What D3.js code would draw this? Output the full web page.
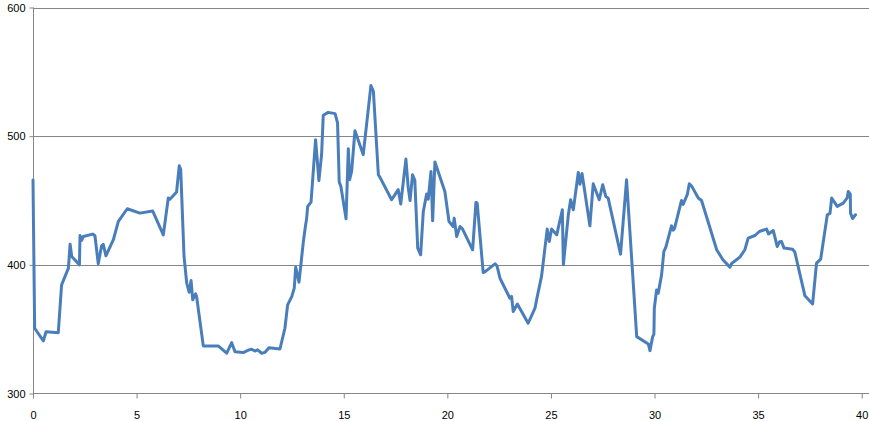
<!DOCTYPE html>
<html>
<head>
<meta charset="utf-8">
<script src="https://cdn.jsdelivr.net/npm/d3@7"></script>
<style>
  body { margin: 0; background: #fff; }
  svg { display: block; }
  .tick text { font-family: "Liberation Sans", Arial, sans-serif; font-size: 11px; fill: #000; }
</style>
</head>
<body>
<svg id="chart" width="869" height="421"></svg>
<script>
const xTicks = [0, 5, 10, 15, 20, 25, 30, 35, 40];
const yTicks = [300, 400, 500, 600];

const xs = [0, 0.08, 0.5, 0.63, 1.22, 1.38, 1.71, 1.79, 1.87, 2.24, 2.27, 2.35, 2.43, 2.88, 2.99, 3.15, 3.31, 3.39, 3.52, 3.88, 4.12, 4.55, 5.16, 5.78, 6.29, 6.53, 6.61, 6.93, 7.06, 7.13, 7.29, 7.42, 7.54, 7.63, 7.71, 7.85, 7.9, 8.22, 8.94, 9.35, 9.59, 9.75, 10.15, 10.42, 10.55, 10.71, 10.84, 11.04, 11.2, 11.39, 11.92, 12.16, 12.29, 12.49, 12.61, 12.68, 12.84, 13.05, 13.16, 13.2, 13.26, 13.42, 13.64, 13.8, 13.93, 14.01, 14.25, 14.58, 14.7, 14.78, 14.86, 15.11, 15.22, 15.28, 15.38, 15.54, 15.94, 16.31, 16.43, 16.67, 16.75, 17.31, 17.63, 17.75, 18.0, 18.11, 18.2, 18.32, 18.43, 18.57, 18.71, 18.84, 19.0, 19.08, 19.21, 19.29, 19.4, 19.88, 20.08, 20.28, 20.33, 20.45, 20.61, 20.73, 21.22, 21.38, 21.44, 21.73, 21.81, 22.3, 22.4, 22.54, 23.02, 23.1, 23.18, 23.38, 23.9, 24.23, 24.34, 24.55, 24.82, 24.92, 25.03, 25.28, 25.55, 25.6, 25.84, 25.95, 26.08, 26.32, 26.4, 26.5, 26.56, 26.88, 27.04, 27.33, 27.5, 27.65, 27.76, 28.36, 28.65, 29.14, 29.7, 29.78, 29.91, 29.97, 29.99, 30.1, 30.18, 30.34, 30.45, 30.55, 30.82, 30.9, 30.96, 31.23, 31.3, 31.38, 31.58, 31.68, 31.8, 32.11, 32.27, 33.0, 33.3, 33.64, 33.72, 34.12, 34.36, 34.52, 34.85, 35.06, 35.41, 35.5, 35.73, 35.92, 36.04, 36.13, 36.25, 36.66, 36.77, 37.26, 37.63, 37.82, 38.02, 38.34, 38.47, 38.55, 38.82, 39.11, 39.3, 39.35, 39.45, 39.46, 39.56, 39.7];
const ys = [466, 350.7, 340.9, 348, 347.3, 384.4, 397.4, 416, 406.5, 400, 422.8, 419, 422, 423.9, 422.6, 400.8, 414.8, 416, 407, 419.5, 433.7, 443.6, 440.2, 441.8, 423.3, 451.9, 451, 456.6, 477, 474, 406.5, 385.8, 378.7, 387.8, 372.8, 377.4, 375, 337, 337, 331.3, 339.5, 332.5, 331.8, 333.9, 334.4, 333, 333.9, 331.3, 332, 335.6, 334.6, 350.7, 368.9, 375.3, 381.9, 398.2, 386.5, 418.1, 431.1, 435, 445.4, 448.8, 497.3, 465.4, 485.6, 516.2, 518.5, 517.5, 510.3, 464.4, 461, 435.8, 490.3, 466.1, 472.6, 504.3, 485.6, 539.3, 534.9, 470, 468, 450.6, 458.4, 447.2, 482.2, 460.2, 450, 470, 465.6, 413, 407.8, 441.5, 455, 451, 472.6, 434.2, 479.9, 457, 433.7, 429.8, 436.3, 422, 429.8, 428, 411.7, 448.5, 448, 394, 394.5, 400.8, 399, 389.6, 374, 375.5, 363.7, 369.6, 354.6, 366.3, 375.3, 391.4, 427.8, 418.1, 427.8, 423.3, 442.8, 400, 439, 450.6, 442.8, 471.8, 462.6, 471, 464.8, 430.3, 463, 450.6, 462.3, 453.1, 452, 408.3, 466.1, 344.2, 338.5, 333.3, 344.2, 346, 366.3, 380.5, 378, 392.2, 410.3, 414, 430.3, 427, 428, 445.4, 450, 447, 454.5, 463, 461, 451.9, 450, 411.7, 404, 398.2, 401, 406, 411.7, 420.8, 422.8, 425.9, 427.8, 424, 426.7, 414.3, 418, 418.1, 413, 412.2, 410, 375.9, 369.6, 401.3, 404.4, 438.9, 440, 451.9, 445.4, 448, 452, 457, 455, 440.2, 436, 438.9];

const data = xs.map((x, i) => ({x, y: ys[i]}));

const svg = d3.select("#chart");
const W = 869;
const x = d3.scaleLinear().domain([0, 40]).range([33, 861.7]);
const y = d3.scaleLinear().domain([300, 600]).range([393.5, 7.5]);
const grey = "#868686";

// gridlines
svg.append("g").selectAll("line").data(yTicks.filter(d => d > 300)).join("line")
  .attr("x1", 33).attr("x2", W)
  .attr("y1", d => Math.round(y(d)) + 0.5).attr("y2", d => Math.round(y(d)) + 0.5)
  .attr("stroke", grey).attr("stroke-width", 1);

// y axis
const yAxis = svg.append("g").attr("transform", "translate(33.5,0)")
  .call(d3.axisLeft(y).tickValues(yTicks).tickSize(4).tickPadding(4).tickFormat(d3.format("d")));
yAxis.selectAll("line").attr("stroke", grey);
yAxis.select(".domain").attr("stroke", grey).attr("d", `M0,${y(600)}V${y(300)}`);

// x axis
const xAxis = svg.append("g").attr("transform", "translate(0,393.5)")
  .call(d3.axisBottom(x).tickValues(xTicks).tickSize(5).tickPadding(13).tickFormat(d3.format("d")));
xAxis.selectAll("line").attr("stroke", grey);
xAxis.select(".domain").attr("stroke", grey).attr("d", `M33,0H${W}`);

// line
const line = d3.line().x(d => x(d.x)).y(d => y(d.y));
svg.append("path").datum(data)
  .attr("fill", "none").attr("stroke", "#4A7EBB").attr("stroke-width", 3)
  .attr("stroke-linejoin", "round").attr("stroke-linecap", "round")
  .attr("d", line);
</script>
</body>
</html>
